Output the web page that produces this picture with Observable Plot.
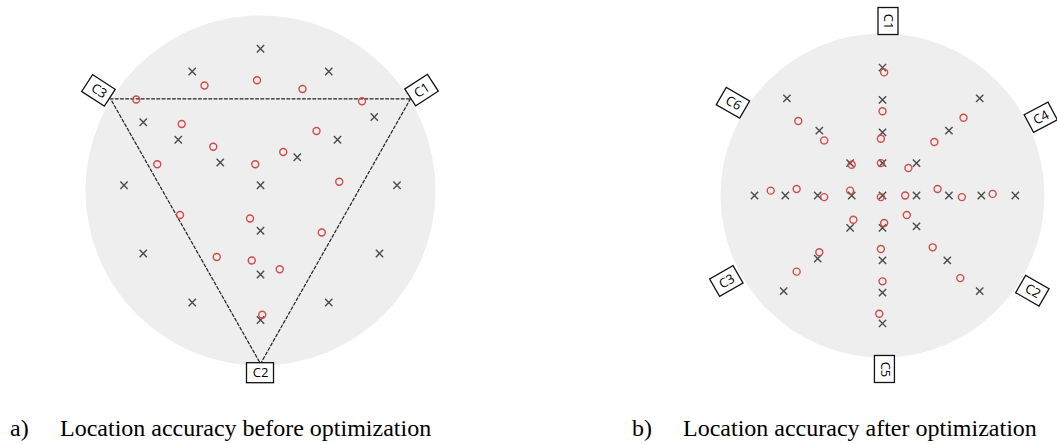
<!DOCTYPE html>
<html>
<head>
<meta charset="utf-8">
<script src="https://cdn.jsdelivr.net/npm/d3@7"></script>
<script src="https://cdn.jsdelivr.net/npm/@observablehq/plot@0.6"></script>
<style>
  html, body { margin: 0; padding: 0; background: #fff; }
  #wrap { position: relative; width: 1057px; height: 444px; overflow: hidden; }
  .panel { position: absolute; top: 0; }
  .cap { position: absolute; font-family: "Liberation Serif", "Times New Roman", serif; font-size: 24px; line-height: 24px; color: #000; white-space: nowrap; }
</style>
</head>
<body>
<div id="wrap">
  <div id="left" class="panel" style="left:0px"></div>
  <div id="right" class="panel" style="left:528px"></div>
  <div class="cap" style="left:10px; top:416px">a)</div>
  <div class="cap" style="left:60px; top:416px">Location accuracy before optimization</div>
  <div class="cap" style="left:632px; top:416px">b)</div>
  <div class="cap" style="left:683px; top:416px">Location accuracy after optimization</div>
</div>
<script>
// ---------- Panel a): before optimization (normalized to circle radius) ----------
const beforeTrueX = [0, -0.39, 0.39, -0.67, 0.65, -0.47, 0.44, -0.23, 0.21, -0.78, 0, 0.78, 0, -0.67, 0.68, 0, -0.39, 0.39, 0];
const beforeTrueY = [0.81, 0.68, 0.68, 0.39, 0.42, 0.29, 0.29, 0.16, 0.19, 0.03, 0.03, 0.03, -0.23, -0.36, -0.36, -0.48, -0.64, -0.64, -0.74];
const beforeEstX = [-0.02, -0.32, 0.24, -0.71, 0.58, -0.45, 0.32, -0.27, 0.13, -0.59, -0.03, 0.45, -0.46, -0.06, 0.35, -0.25, -0.05, 0.11, 0.01];
const beforeEstY = [0.63, 0.60, 0.58, 0.52, 0.51, 0.38, 0.34, 0.25, 0.22, 0.15, 0.15, 0.05, -0.14, -0.16, -0.24, -0.38, -0.40, -0.45, -0.71];
const beforeAnchorNames = ["C1", "C2", "C3"];
const beforeAnchorX = [0.857, 0, -0.857];
const beforeAnchorY = [0.524, -0.99, 0.524];
const beforeLabelX = [0.923, 0, -0.923];
const beforeLabelY = [0.571, -1.044, 0.569];
const beforeLabelRotate = [-33, 0, 33];

// ---------- Panel b): after optimization ----------
const afterTrueX = [0, 0, 0, 0, 0, 0, 0, 0, 0,
  -0.79, -0.60, -0.40, -0.19, 0.21, 0.41, 0.61, 0.82,
  -0.20, -0.39, -0.59, 0.21, 0.41, 0.60, -0.20, -0.40, -0.61, 0.21, 0.40, 0.60];
const afterTrueY = [0.79, 0.59, 0.39, 0.20, 0, -0.20, -0.40, -0.60, -0.79,
  0, 0, 0, 0, 0, 0, 0, 0,
  0.20, 0.40, 0.60, 0.20, 0.40, 0.60, -0.20, -0.39, -0.59, -0.19, -0.40, -0.59];
const afterEstX = [0.01, 0.00, -0.01, -0.01, -0.19, -0.52, -0.36, 0.50, 0.32, 0.16,
  -0.69, -0.53, -0.36, -0.20, -0.01, 0.14, 0.34, 0.49, 0.68,
  -0.18, 0.01, 0.15, -0.39, -0.01, 0.31, -0.53, 0.00, 0.48, -0.02];
const afterEstY = [0.76, 0.52, 0.35, 0.20, 0.19, 0.46, 0.34, 0.48, 0.33, 0.17,
  0.03, 0.04, -0.01, 0.03, -0.01, 0.00, 0.04, -0.01, 0.01,
  -0.15, -0.17, -0.12, -0.35, -0.33, -0.32, -0.47, -0.53, -0.51, -0.73];
const afterAnchorNames = ["C1", "C4", "C2", "C5", "C3", "C6"];
const afterLabelX = [0.037, 0.98, 0.928, 0.015, -0.961, -0.92];
const afterLabelY = [1.074, 0.48, -0.591, -1.074, -0.531, 0.569];
const afterLabelRotate = [90, -28, 30, 90, -30, 30];

// ---------- helpers ----------
const zip = (xs, ys) => xs.map((x, i) => ({x, y: ys[i]}));
const labelsOf = (names, xs, ys, rot) => names.map((n, i) => ({name: n, x: xs[i], y: ys[i], rotate: rot[i]}));

const BOX_W = 27, BOX_H = 20;
function boxMark(labels) {
  return (index, scales) => {
    const g = d3.create("svg:g");
    for (const d of labels) {
      g.append("rect")
        .attr("x", -BOX_W / 2).attr("y", -BOX_H / 2)
        .attr("width", BOX_W).attr("height", BOX_H)
        .attr("transform", `translate(${scales.x(d.x)},${scales.y(d.y)}) rotate(${d.rotate})`)
        .attr("fill", "white").attr("stroke", "#111").attr("stroke-width", 1.3);
    }
    return g.node();
  };
}

function panel({width, height, ml, mr, mt, mb, trueP, estP, labels, triangle}) {
  const R = (width - ml - mr) / 2;
  const marks = [
    Plot.dot([{x: 0, y: 0}], {x: "x", y: "y", r: R, fill: "#eeeeee", stroke: "none"})
  ];
  if (triangle) {
    marks.push(Plot.line(triangle, {x: "x", y: "y", stroke: "#222", strokeWidth: 1.2, strokeDasharray: "3,2.2"}));
  }
  marks.push(
    Plot.dot(trueP, {x: "x", y: "y", symbol: "times", r: 3.4, stroke: "#4a4a4a", strokeWidth: 1.4}),
    Plot.dot(estP, {x: "x", y: "y", symbol: "circle", r: 3.5, fill: "none", stroke: "#d24a4a", strokeWidth: 1.4}),
    boxMark(labels),
    Plot.text(labels, {x: "x", y: "y", text: "name", rotate: "rotate", fontSize: 13, fontFamily: "Open Sans, Noto Sans, sans-serif", fill: "#000"})
  );
  return Plot.plot({
    width, height,
    marginLeft: ml, marginRight: mr, marginTop: mt, marginBottom: mb,
    x: {domain: [-1, 1], axis: null},
    y: {domain: [-1, 1], axis: null},
    style: {background: "transparent", overflow: "visible"},
    marks
  });
}

const beforeAnch = zip(beforeAnchorX, beforeAnchorY);
const triangle = [beforeAnch[0], beforeAnch[1], beforeAnch[2], beforeAnch[0]];

document.getElementById("left").append(panel({
  width: 528, height: 400, ml: 85, mr: 93, mt: 15, mb: 35,
  trueP: zip(beforeTrueX, beforeTrueY),
  estP: zip(beforeEstX, beforeEstY),
  labels: labelsOf(beforeAnchorNames, beforeLabelX, beforeLabelY, beforeLabelRotate),
  triangle
}));

document.getElementById("right").append(panel({
  width: 529, height: 400, ml: 192, mr: 13, mt: 33, mb: 43,
  trueP: zip(afterTrueX, afterTrueY),
  estP: zip(afterEstX, afterEstY),
  labels: labelsOf(afterAnchorNames, afterLabelX, afterLabelY, afterLabelRotate),
  triangle: null
}));
</script>
</body>
</html>
